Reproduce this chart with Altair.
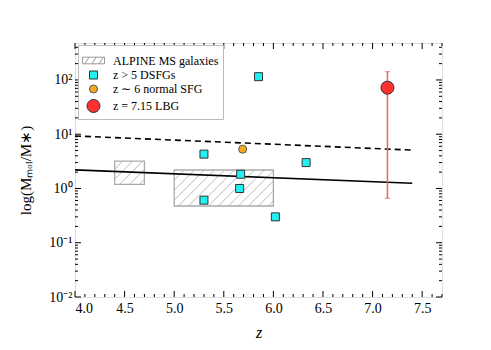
import altair as alt
import pandas as pd
import numpy as np

# ---------------- data ----------------
dsfg_z = [5.85, 5.30, 6.33, 5.67, 5.66, 5.30, 6.02]
dsfg_r = [115, 4.3, 3.0, 1.83, 1.0, 0.61, 0.30]

sfg_z = [5.69]
sfg_r = [5.3]

lbg_z = [7.15]
lbg_r = [72]
lbg_lo = [0.66]
lbg_hi = [142]

# ALPINE boxes (z range, ratio range)
box_z1 = [4.40, 5.00]
box_z2 = [4.70, 6.00]
box_r1 = [1.19, 0.475]
box_r2 = [3.2, 2.19]

# scaling relations
dash_z = [4.0, 7.4]
dash_r = [9.3, 5.1]
solid_z = [4.0, 7.4]
solid_r = [2.2, 1.25]

labels = ["ALPINE MS galaxies", "z > 5 DSFGs", "z ∼ 6 normal SFG", "z = 7.15 LBG"]

x_major = [4.0, 4.5, 5.0, 5.5, 6.0, 6.5, 7.0, 7.5]
y_major = [0.01, 0.1, 1, 10, 100]

W, H = 367, 254
XMIN, XMAX = 4.0, 7.7
YMIN, YMAX = 0.01, 480
FONT = "Liberation Serif"

xs = alt.Scale(domain=[XMIN, XMAX], nice=False, zero=False)
ys = alt.Scale(type="log", domain=[YMIN, YMAX], nice=False)

# ---------------- hatch segments derived from boxes ----------------
pxz = W / (XMAX - XMIN)
pxd = H / (np.log10(YMAX) - np.log10(YMIN))
hatch = []
for z1, z2, r1, r2 in zip(box_z1, box_z2, box_r1, box_r2):
    u1, u2 = z1 * pxz, z2 * pxz
    v1, v2 = np.log10(r1) * pxd, np.log10(r2) * pxd
    step = 10.0
    c = v1 - u2 + step / 2
    while c < v2 - u1:
        ua = max(u1, v1 - c)
        ub = min(u2, v2 - c)
        if ub > ua:
            hatch.append({"hx": ua / pxz, "hx2": ub / pxz,
                          "hy": 10 ** ((ua + c) / pxd), "hy2": 10 ** ((ub + c) / pxd)})
        c += step
hatch_df = pd.DataFrame(hatch)

box_df = pd.DataFrame({"z1": box_z1, "z2": box_z2, "r1": box_r1, "r2": box_r2})

boxes = alt.Chart(box_df).mark_rect(fill="white", fillOpacity=0, stroke="#aaaaaa", strokeWidth=1.3).encode(
    x=alt.X("z1:Q", scale=xs), x2="z2:Q", y=alt.Y("r1:Q", scale=ys), y2="r2:Q")

hatches = alt.Chart(hatch_df).mark_rule(color="#aaaaaa", strokeWidth=0.8).encode(
    x=alt.X("hx:Q", scale=xs), x2="hx2:Q", y=alt.Y("hy:Q", scale=ys), y2="hy2:Q")

dash = alt.Chart(pd.DataFrame({"z": dash_z, "r": dash_r})).mark_line(
    color="black", strokeWidth=1.6, strokeDash=[6, 4]).encode(
    x=alt.X("z:Q", scale=xs), y=alt.Y("r:Q", scale=ys))

solid = alt.Chart(pd.DataFrame({"z": solid_z, "r": solid_r})).mark_line(
    color="black", strokeWidth=1.6).encode(
    x=alt.X("z:Q", scale=xs), y=alt.Y("r:Q", scale=ys))

err_df = pd.DataFrame({"z": lbg_z, "lo": lbg_lo, "hi": lbg_hi})
err = alt.Chart(err_df).mark_rule(color="#f06464", strokeWidth=1.5).encode(
    x=alt.X("z:Q", scale=xs), y=alt.Y("lo:Q", scale=ys), y2="hi:Q")
cap_df = pd.DataFrame({"z": lbg_z * 2, "r": lbg_lo + lbg_hi})
caps = alt.Chart(cap_df).mark_tick(color="#f06464", orient="horizontal", size=5, thickness=1.3).encode(
    x=alt.X("z:Q", scale=xs), y=alt.Y("r:Q", scale=ys))

pts = pd.DataFrame({
    "z": dsfg_z + sfg_z + lbg_z,
    "r": dsfg_r + sfg_r + lbg_r,
    "label": [labels[1]] * len(dsfg_z) + [labels[2]] * len(sfg_z) + [labels[3]] * len(lbg_z),
})

hatch_path = ("M-1,-0.3H1V0.3H-1Z M-0.8,0.3L-0.4,-0.3 M-0.15,0.3L0.25,-0.3 M0.5,0.3L0.9,-0.3")

legend = alt.Legend(orient="none", legendX=3, legendY=2, title=None,
                    labelFont=FONT, labelFontSize=12, labelColor="black",
                    strokeColor="#bbbbbb", fillColor="white", padding=4,
                    rowPadding=2, symbolStrokeWidth=1, labelOffset=8)

points = alt.Chart(pts).mark_point(filled=True, opacity=1, strokeWidth=1).encode(
    x=alt.X("z:Q", scale=xs),
    y=alt.Y("r:Q", scale=ys),
    shape=alt.Shape("label:N", scale=alt.Scale(type="ordinal", domain=labels, range=[hatch_path, "square", "circle", "circle"]), legend=legend),
    fill=alt.Fill("label:N", scale=alt.Scale(type="ordinal", domain=labels, range=["transparent", "#22f0f0", "#f7a823", "#ff3030"]), legend=legend),
    stroke=alt.Stroke("label:N", scale=alt.Scale(type="ordinal", domain=labels, range=["#999999", "#333333", "#555555", "#333333"]), legend=legend),
    size=alt.Size("label:N", scale=alt.Scale(type="ordinal", domain=labels, range=[484, 64, 64, 169]), legend=legend),
)

# ---------------- inward ticks ----------------
x_minor = [round(v, 1) for v in np.arange(4.0, 7.71, 0.1) if round(v, 1) not in x_major]
y_minor = [k * 10.0 ** e for e in range(-2, 3) for k in range(2, 10) if k * 10.0 ** e <= YMAX]

def xticks(vals, ln):
    d = pd.DataFrame({"v": vals})
    b = alt.Chart(d).mark_rule(color="black", strokeWidth=1).encode(
        x=alt.X("v:Q", scale=xs), y=alt.value(H), y2=alt.value(H - ln))
    t = alt.Chart(d).mark_rule(color="black", strokeWidth=1).encode(
        x=alt.X("v:Q", scale=xs), y=alt.value(0), y2=alt.value(ln))
    return [b, t]

def yticks(vals, ln):
    d = pd.DataFrame({"v": vals})
    l = alt.Chart(d).mark_rule(color="black", strokeWidth=1).encode(
        y=alt.Y("v:Q", scale=ys), x=alt.value(0), x2=alt.value(ln))
    r = alt.Chart(d).mark_rule(color="black", strokeWidth=1).encode(
        y=alt.Y("v:Q", scale=ys), x=alt.value(W), x2=alt.value(W - ln))
    return [l, r]

ticks = xticks(x_major, 6) + xticks(x_minor, 3) + yticks(y_major, 6) + yticks(y_minor, 3)

# axes (labels + titles only)
axes = alt.Chart(pd.DataFrame({"z": [XMIN], "r": [1]})).mark_point(opacity=0).encode(
    x=alt.X("z:Q", scale=xs, title="z",
            axis=alt.Axis(values=x_major, format=".1f", titleFontStyle="italic", titlePadding=9,
                          titleFontSize=16, labelPadding=4, labelFont=FONT, titleFont=FONT)),
    y=alt.Y("r:Q", scale=ys, title="log(Mₘₒₗ/M∗)",
            axis=alt.Axis(values=y_major, titlePadding=15, labelPadding=3, labelFont=FONT, titleFont=FONT,
                          labelExpr="datum.value >= 50 ? '10²' : datum.value >= 5 ? '10¹' : datum.value >= 0.5 ? '10⁰' : datum.value >= 0.05 ? '10⁻¹' : '10⁻²'")),
)

chart = alt.layer(axes, boxes, hatches, dash, solid, err, caps, points, *ticks).properties(
    width=W, height=H,
    autosize=alt.AutoSizeParams(type="none"),
    padding={"left": 67, "top": 35, "right": 40, "bottom": 45},
).configure_view(stroke="black", strokeWidth=1.2).configure(background="white", font=FONT).configure_axis(
    ticks=False, domain=False, grid=False,
    labelFont=FONT, labelFontSize=14, labelColor="black",
    titleFont=FONT, titleFontSize=15, titleFontWeight="normal", titleColor="black",
)

chart.save("out.html", embed_options={"renderer": "svg", "actions": False})
